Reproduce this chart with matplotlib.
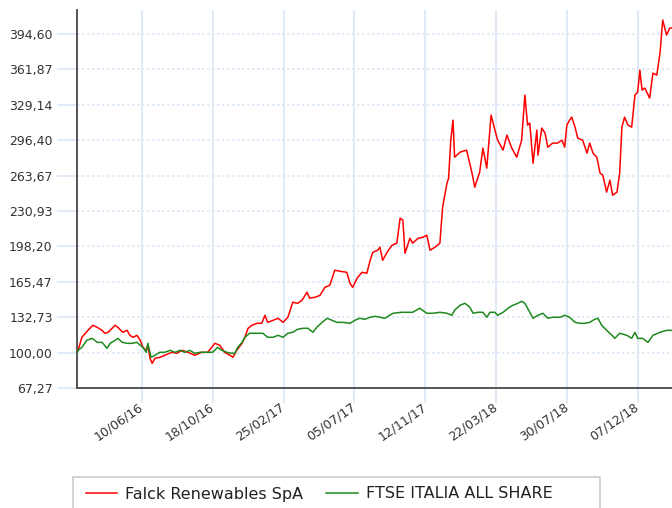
import matplotlib
matplotlib.use("Agg")
import matplotlib.pyplot as plt
import matplotlib.dates as mdates
from matplotlib.patches import Rectangle
import pandas as pd

# ---- data (base 100 on 12/02/16) ----
falck_dates = [
    "2016-02-12", "2016-02-14", "2016-02-21", "2016-03-03", "2016-03-12", "2016-03-20",
    "2016-03-29", "2016-04-03", "2016-04-09", "2016-04-22", "2016-04-27", "2016-05-06",
    "2016-05-14", "2016-05-19", "2016-05-25", "2016-06-01", "2016-06-07", "2016-06-12",
    "2016-06-18", "2016-06-21", "2016-06-25", "2016-06-29", "2016-07-04", "2016-07-13",
    "2016-07-22", "2016-08-04", "2016-08-13", "2016-08-23", "2016-09-03", "2016-09-15",
    "2016-09-28", "2016-10-09", "2016-10-22", "2016-10-31", "2016-11-09", "2016-11-19",
    "2016-11-24", "2016-12-01", "2016-12-11", "2016-12-16", "2016-12-22", "2016-12-29",
    "2017-01-07", "2017-01-16", "2017-01-22", "2017-01-27", "2017-02-06", "2017-02-15",
    "2017-02-24", "2017-03-05", "2017-03-14", "2017-03-23", "2017-03-31", "2017-04-09",
    "2017-04-14", "2017-04-24", "2017-05-03", "2017-05-12", "2017-05-21", "2017-05-30",
    "2017-06-08", "2017-06-21", "2017-06-27", "2017-07-02", "2017-07-10", "2017-07-19",
    "2017-07-28", "2017-08-03", "2017-08-08", "2017-08-17", "2017-08-21", "2017-08-26",
    "2017-09-03", "2017-09-12", "2017-09-21", "2017-09-27", "2017-10-02", "2017-10-06",
    "2017-10-15", "2017-10-20", "2017-10-30", "2017-11-08", "2017-11-15", "2017-11-21",
    "2017-11-30", "2017-12-09", "2017-12-14", "2017-12-22", "2017-12-25", "2017-12-29",
    "2018-01-02", "2018-01-05", "2018-01-15", "2018-01-27", "2018-02-06", "2018-02-11",
    "2018-02-20", "2018-02-26", "2018-03-05", "2018-03-13", "2018-03-20", "2018-03-25",
    "2018-04-04", "2018-04-11", "2018-04-20", "2018-04-29", "2018-05-08", "2018-05-14",
    "2018-05-19", "2018-05-23", "2018-05-29", "2018-06-05", "2018-06-07", "2018-06-14",
    "2018-06-20", "2018-06-25", "2018-07-04", "2018-07-13", "2018-07-21", "2018-07-26",
    "2018-07-30", "2018-08-04", "2018-08-08", "2018-08-14", "2018-08-19", "2018-08-28",
    "2018-09-05", "2018-09-10", "2018-09-16", "2018-09-23", "2018-09-29", "2018-10-04",
    "2018-10-11", "2018-10-17", "2018-10-22", "2018-10-30", "2018-11-04", "2018-11-08",
    "2018-11-13", "2018-11-19", "2018-11-26", "2018-12-02", "2018-12-07", "2018-12-11",
    "2018-12-15", "2018-12-20", "2018-12-29", "2019-01-04", "2019-01-11", "2019-01-17",
    "2019-01-22", "2019-01-29", "2019-02-04", "2019-02-08",
]
falck_values = [
    100.0, 102.1, 114.2, 120.6, 125.3, 123.4,
    120.6, 117.9, 118.8, 125.3, 123.4, 118.8,
    120.6, 116.0, 114.2, 116.0, 111.4, 104.9,
    102.1, 106.8, 94.7, 90.1, 94.7, 95.6,
    97.5, 100.3, 99.4, 102.1, 100.3, 97.5,
    100.3, 100.3, 108.6, 106.8, 100.3, 97.5,
    95.6, 102.1, 108.6, 114.2, 122.5, 125.3,
    127.1, 127.1, 134.5, 128.0, 129.9, 131.8,
    128.0, 132.7, 146.6, 145.6, 148.4, 155.8,
    150.3, 151.2, 153.0, 160.4, 162.3, 176.2,
    175.3, 174.3, 164.1, 160.4, 168.8, 174.3,
    173.4, 185.4, 192.8, 194.7, 197.5, 185.4,
    192.8, 199.3, 201.2, 224.3, 222.5, 191.9,
    205.8, 201.2, 205.8, 206.7, 208.6, 194.7,
    197.5, 201.2, 234.5, 256.7, 261.3, 296.5,
    315.0, 280.8, 285.4, 287.3, 266.0, 253.0,
    266.9, 289.1, 270.6, 319.7, 305.8, 296.5,
    287.3, 301.2, 289.1, 280.8, 296.5, 338.2,
    310.4, 312.3, 275.2, 305.8, 282.6, 307.7,
    303.0, 290.0, 293.8, 293.8, 296.5, 290.0,
    310.4, 315.0, 317.8, 308.6, 298.4, 296.5,
    284.5, 293.8, 284.5, 280.8, 266.0, 264.1,
    248.4, 259.5, 245.6, 248.4, 266.0, 308.6,
    317.8, 310.4, 308.6, 338.2, 341.0, 361.3,
    342.8, 344.7, 335.4, 358.5, 356.7, 377.1,
    407.6, 393.7, 400.2, 400.2,
]

ftse_dates = [
    "2016-02-12", "2016-02-14", "2016-02-21", "2016-03-01", "2016-03-11", "2016-03-20",
    "2016-03-29", "2016-04-07", "2016-04-13", "2016-04-22", "2016-04-27", "2016-05-05",
    "2016-05-14", "2016-05-23", "2016-06-01", "2016-06-07", "2016-06-12", "2016-06-18",
    "2016-06-21", "2016-06-27", "2016-07-04", "2016-07-13", "2016-07-22", "2016-08-01",
    "2016-08-10", "2016-08-19", "2016-08-28", "2016-09-06", "2016-09-15", "2016-09-25",
    "2016-10-04", "2016-10-18", "2016-10-27", "2016-11-04", "2016-11-13", "2016-11-22",
    "2016-11-28", "2016-12-03", "2016-12-11", "2016-12-16", "2016-12-25", "2017-01-07",
    "2017-01-18", "2017-01-27", "2017-02-06", "2017-02-15", "2017-02-24", "2017-03-05",
    "2017-03-14", "2017-03-23", "2017-04-02", "2017-04-11", "2017-04-20", "2017-04-27",
    "2017-05-07", "2017-05-16", "2017-05-25", "2017-06-03", "2017-06-14", "2017-06-27",
    "2017-07-06", "2017-07-15", "2017-07-24", "2017-08-03", "2017-08-12", "2017-08-21",
    "2017-08-30", "2017-09-14", "2017-09-30", "2017-10-09", "2017-10-20", "2017-11-02",
    "2017-11-15", "2017-11-26", "2017-12-09", "2017-12-22", "2017-12-31", "2018-01-05",
    "2018-01-15", "2018-01-24", "2018-02-02", "2018-02-08", "2018-02-17", "2018-02-26",
    "2018-03-05", "2018-03-11", "2018-03-20", "2018-03-25", "2018-04-04", "2018-04-13",
    "2018-04-22", "2018-05-01", "2018-05-08", "2018-05-14", "2018-05-19", "2018-05-29",
    "2018-06-07", "2018-06-16", "2018-06-25", "2018-07-04", "2018-07-18", "2018-07-26",
    "2018-08-04", "2018-08-14", "2018-08-23", "2018-09-01", "2018-09-10", "2018-09-19",
    "2018-09-25", "2018-10-02", "2018-10-11", "2018-10-21", "2018-10-26", "2018-11-04",
    "2018-11-17", "2018-11-26", "2018-12-02", "2018-12-07", "2018-12-16", "2018-12-26",
    "2019-01-04", "2019-01-17", "2019-01-29", "2019-02-08",
]
ftse_values = [
    100.0, 102.1, 104.9, 111.4, 113.2, 109.5,
    109.5, 104.0, 108.6, 111.4, 113.2, 109.5,
    108.6, 108.6, 109.5, 106.8, 104.9, 100.3,
    108.6, 95.6, 97.5, 100.3, 100.3, 102.1,
    100.3, 102.1, 100.3, 102.1, 99.4, 100.3,
    100.3, 100.3, 104.9, 102.1, 100.3, 99.4,
    99.4, 104.9, 109.5, 114.2, 117.9, 117.9,
    117.9, 114.2, 114.2, 116.0, 114.2, 117.9,
    118.8, 121.6, 122.5, 122.5, 118.8, 123.4,
    128.0, 131.8, 129.9, 128.0, 128.0, 127.1,
    129.9, 131.8, 130.8, 132.7, 133.6, 132.7,
    131.8, 136.4, 137.3, 137.3, 137.3, 141.0,
    136.4, 136.4, 137.3, 136.4, 134.5, 139.2,
    143.8, 145.6, 141.9, 136.4, 137.3, 137.3,
    132.7, 137.3, 137.3, 134.5, 137.3, 141.0,
    143.8, 145.6, 147.5, 145.6, 141.0, 131.8,
    134.5, 136.4, 131.8, 132.7, 132.7, 134.5,
    132.7, 128.0, 127.1, 127.1, 128.0, 130.8,
    131.8, 125.3, 120.6, 116.0, 113.2, 117.9,
    116.0, 113.2, 118.8, 113.2, 113.2, 109.5,
    116.0, 118.8, 120.6, 120.6,
]

series_labels = ["Falck Renewables SpA", "FTSE ITALIA ALL SHARE"]
series_colors = ["#ff0000", "#1e8a1e"]

y_ticks = [67.27, 100.00, 132.73, 165.47, 198.20, 230.93, 263.67, 296.40, 329.14, 361.87, 394.60]
x_ticks = ["2016-06-10", "2016-10-18", "2017-02-25", "2017-07-05",
           "2017-11-12", "2018-03-22", "2018-07-30", "2018-12-07"]

# ---- figure ----
W, H = 672, 508
fig = plt.figure(figsize=(W / 100, H / 100), dpi=100)
ax = fig.add_axes([77 / W, 1 - 388 / H, (W - 77) / W, 378 / H])

grid_c = "#dce8f6"
ax.plot(pd.to_datetime(falck_dates), falck_values, color=series_colors[0], lw=1.1,
        label=series_labels[0], zorder=3)
ax.plot(pd.to_datetime(ftse_dates), ftse_values, color=series_colors[1], lw=1.1,
        label=series_labels[1], zorder=3)

ax.set_xlim(pd.Timestamp("2016-02-12"), pd.Timestamp("2019-02-08"))
ax.set_ylim(67.27, 416.9)

ax.set_yticks(y_ticks)
ax.set_yticklabels([f"{v:.2f}".replace(".", ",") for v in y_ticks])
ax.set_xticks(pd.to_datetime(x_ticks))
ax.xaxis.set_major_formatter(mdates.DateFormatter("%d/%m/%y"))

ax.yaxis.grid(True, color=grid_c, lw=1.2, ls=(0, (1.5, 1.5)), zorder=0)
ax.xaxis.grid(True, color=grid_c, lw=1.2, ls="-", zorder=0)

ax.tick_params(axis="y", length=14.5, width=1.2, color=grid_c, pad=3,
               labelsize=9, labelcolor="#333333")
ax.tick_params(axis="x", length=11, width=1.2, color=grid_c, pad=2,
               labelsize=9, labelcolor="#333333")
for lab in ax.get_xticklabels():
    lab.set_rotation(35)
    lab.set_ha("right")
    lab.set_va("center")
    lab.set_rotation_mode("anchor")

for side in ("top", "right"):
    ax.spines[side].set_visible(False)
for side in ("left", "bottom"):
    ax.spines[side].set_color("#555555")
    ax.spines[side].set_linewidth(1.4)

# legend box (runs off the bottom edge like the reference)
fig.patches.append(Rectangle((73 / W, -0.02), (600 - 73) / W, 1 - 477 / H + 0.02,
                             transform=fig.transFigure, fill=False,
                             edgecolor="#cccccc", lw=1.2))
fig.legend(loc="center left", bbox_to_anchor=(86 / W, 1 - 494 / H), ncol=2,
           frameon=False, fontsize=11.5, handlelength=1.95, handletextpad=0.5,
           columnspacing=1.45, borderpad=0, borderaxespad=0, labelcolor="#222222")

fig.savefig("out.png", dpi=100)
